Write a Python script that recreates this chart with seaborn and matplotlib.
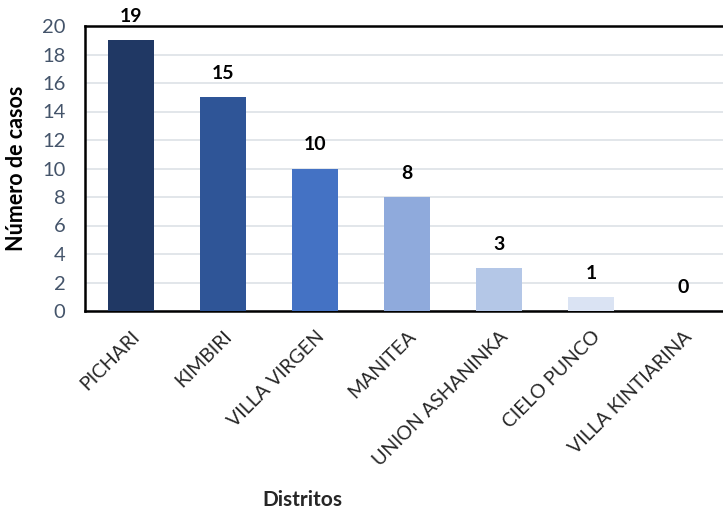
import pandas as pd
import numpy as np
import matplotlib.pyplot as plt
import seaborn as sns

distritos = ['PICHARI', 'KIMBIRI', 'VILLA VIRGEN', 'MANITEA', 'UNION ASHANINKA', 'CIELO PUNCO', 'VILLA KINTIARINA']
casos = [19, 15, 10, 8, 3, 1, 0]
colores = ['#203864', '#2F5597', '#4472C4', '#8FAADC', '#B4C7E7', '#DAE3F3', '#EEF2F9']

df = pd.DataFrame({'Distrito': distritos, 'Casos': casos})

sns.set_style('white')
plt.rcParams['font.family'] = ['Lato', 'DejaVu Sans']

fig = plt.figure(figsize=(7.23, 5.13), dpi=100)
ax = fig.add_axes([85/723, 1-311/513, 1-85/723, (311-26)/513])

sns.barplot(data=df, x='Distrito', y='Casos', hue='Distrito', palette=colores,
            width=0.5, legend=False, saturation=1, linewidth=0, ax=ax, zorder=3)

ax.set_xlim(-0.5, 6.43)
ax.set_ylim(0, 20)
ax.set_yticks(range(0, 21, 2))
ax.grid(axis='y', color='#DDE1E6', linewidth=1.2, zorder=0)
ax.set_axisbelow(True)

# frame: left, bottom and top in black (right edge falls outside the figure)
for sp in ['left', 'bottom', 'top']:
    ax.spines[sp].set_visible(True)
    ax.spines[sp].set_color('black')
    ax.spines[sp].set_linewidth(1.8)
ax.spines['right'].set_visible(False)

ax.tick_params(axis='both', length=0)
ax.tick_params(axis='y', labelsize=14.5, labelcolor='#44546A', pad=14)
ax.tick_params(axis='x', labelsize=14, pad=12)
plt.setp(ax.get_xticklabels(), rotation=45, ha='right', va='top', rotation_mode='anchor')

for i, v in enumerate(casos):
    ax.annotate(str(v), xy=(i, v), xytext=(0, 17), textcoords='offset points',
                ha='center', va='center', fontsize=14, fontweight='bold', color='black')

ax.set_xlabel('')
ax.set_ylabel('Número de casos', fontsize=15.5, fontweight='bold', color='black')
ax.yaxis.set_label_coords(-85/723 + 19/723, 0.5)
fig.text(302/723, 1-500/513, 'Distritos', fontsize=15, fontweight='bold', ha='center', va='center')

fig.savefig('out.png', dpi=100)
